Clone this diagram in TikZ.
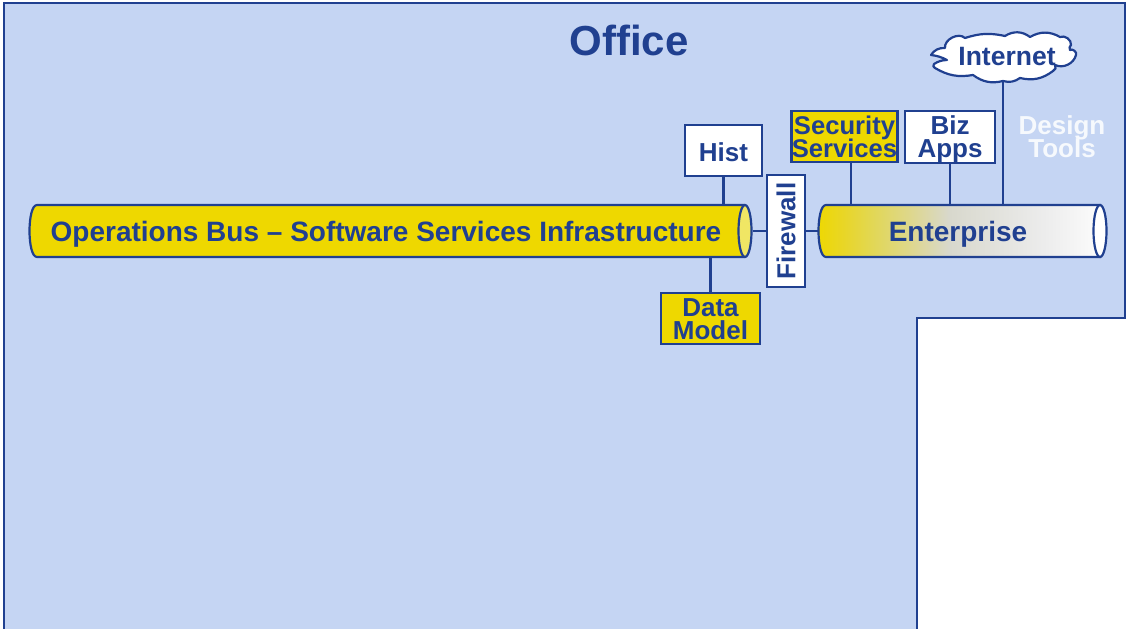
\documentclass[tikz,border=0pt]{standalone}
\usepackage{fontspec}
\setmainfont{Liberation Sans}
\usetikzlibrary{shapes.geometric}
\definecolor{officeblue}{RGB}{197,213,243}
\definecolor{lineblue}{RGB}{32,64,144}
\definecolor{busyellow}{RGB}{238,216,0}
\definecolor{capyellow}{RGB}{240,230,100}
\definecolor{entone}{RGB}{232,214,40}
\definecolor{enttwo}{RGB}{225,215,90}
\definecolor{entthree}{RGB}{222,215,140}
\definecolor{entfour}{RGB}{216,216,205}
\definecolor{entfive}{RGB}{236,236,236}
\definecolor{entsix}{RGB}{252,252,252}
\pgfdeclarehorizontalshading{entshade}{100bp}{
  color(0bp)=(busyellow); color(25bp)=(busyellow); color(30bp)=(entone); color(35.5bp)=(enttwo);
  color(41.5bp)=(entthree); color(48.5bp)=(entfour); color(65bp)=(entfive); color(75bp)=(entsix); color(100bp)=(entsix)}
\newcommand{\tightlines}{\lineskip=0pt\lineskiplimit=-20pt\bfseries}
\tikzset{
  busline/.style={draw=lineblue, line width=2.2pt},
  link/.style={lineblue, line width=2.6pt},
  boxlabel/.style={font=\fontsize{26}{23}\selectfont\tightlines, text=lineblue, align=center, inner sep=0pt},
  buslabel/.style={boxlabel, font=\fontsize{28}{23}\selectfont\tightlines, minimum height=52pt, text height=20pt, text depth=0pt},
  whitebox/.style={boxlabel, draw=lineblue, line width=2.7pt, fill=white},
  yellowbox/.style={boxlabel, draw=lineblue, line width=2.7pt, fill=busyellow},
  buscap/.style={ellipse, busline, inner sep=0pt, minimum width=13pt, minimum height=52pt}
}
\begin{document}
\begin{tikzpicture}[x=1pt,y=-1pt]
\useasboundingbox (0,0) rectangle (1128,629);
% office area
\draw[busline, fill=officeblue] (4,632) -- (4,3) -- (1125,3) -- (1125,318) -- (917,318) -- (917,632);
\node[boxlabel, font=\fontsize{42}{42}\selectfont\bfseries] (office) at (629,40) {Office};
\node[boxlabel, text=white!85!officeblue] (design) at (1062,137) {Design\\Tools};
% the two buses
\draw[busline, fill=busyellow] (745,205) -- (37,205) .. controls (27,205) and (27,257) .. (37,257) -- (745,257);
\draw[busline, shading=entshade] (1100,205) -- (826,205) .. controls (816,205) and (816,257) .. (826,257) -- (1100,257) -- cycle;
\node[buscap, fill=capyellow] (opscap) at (745,231) {};
\node[buscap, fill=white] (entcap) at (1100,231) {};
\node[buslabel, minimum width=714pt] (opsbus) at (386,231) {Operations Bus -- Software Services Infrastructure};
\node[buslabel, minimum width=280pt] (entbus) at (958,231) {Enterprise};
% boxes
\node[whitebox, minimum width=77pt, minimum height=51pt, text height=22pt, text depth=0pt] (hist) at (723.5,150.5) {Hist};
\node[yellowbox, font=\fontsize{25.6}{23}\selectfont\tightlines, minimum width=105pt, minimum height=51pt] (security) at (844.5,136.5) {Security\\Services};
\node[whitebox, minimum width=90pt, minimum height=52pt, text height=46pt] (bizapps) at (950,137) {Biz\\Apps};
\node[yellowbox, minimum width=99pt, minimum height=51pt, text height=43pt] (datamodel) at (710.5,318.5) {Data\\Model};
\node[whitebox, rotate=90, minimum width=112pt, minimum height=38pt] (firewall) at (786,231) {Firewall};
% cloud outline, then its label
\draw[busline, fill=white, line join=round] (945,48) to[bend left=70] (965,38) to[bend left=15] (1005,36)
  to[bend left=35] (1030,37) to[bend left=30] (1060,37) to[bend left=60] (1071,45) to[bend right=40] (1070,50)
  to[bend left=80] (1076,55) to[bend left=50] (1055,65) to[bend left=60] (1053,71) to[bend left=25] (1020,78)
  to[bend left=25] (1003,81) to[bend left=25] (973,75) to[bend left=20] (935,68) to[bend left=80] (934,64)
  to[bend left=15] (947,60) to[bend right=10] (931,55) to[bend left=30] cycle;
\node[boxlabel, font=\fontsize{26.5}{23}\selectfont\bfseries, minimum width=110pt, minimum height=40pt] (internet) at (1007,57) {Internet};
\coordinate (cloudfoot) at (1003,81);
% links
\draw[link] (hist.south) -- (hist.south |- opsbus.north);
\draw[link] (datamodel.north) -- (datamodel.north |- opsbus.south);
\draw[link] ([xshift=6.5pt]security.south) -- ([xshift=6.5pt]security.south |- entbus.north);
\draw[link] (bizapps.south) -- (bizapps.south |- entbus.north);
\draw[link] (cloudfoot) -- (cloudfoot |- entbus.north);
\draw[link] (opscap.east) -- (firewall.north);
\draw[link] (firewall.south) -- (entbus.west);
\end{tikzpicture}
\end{document}
